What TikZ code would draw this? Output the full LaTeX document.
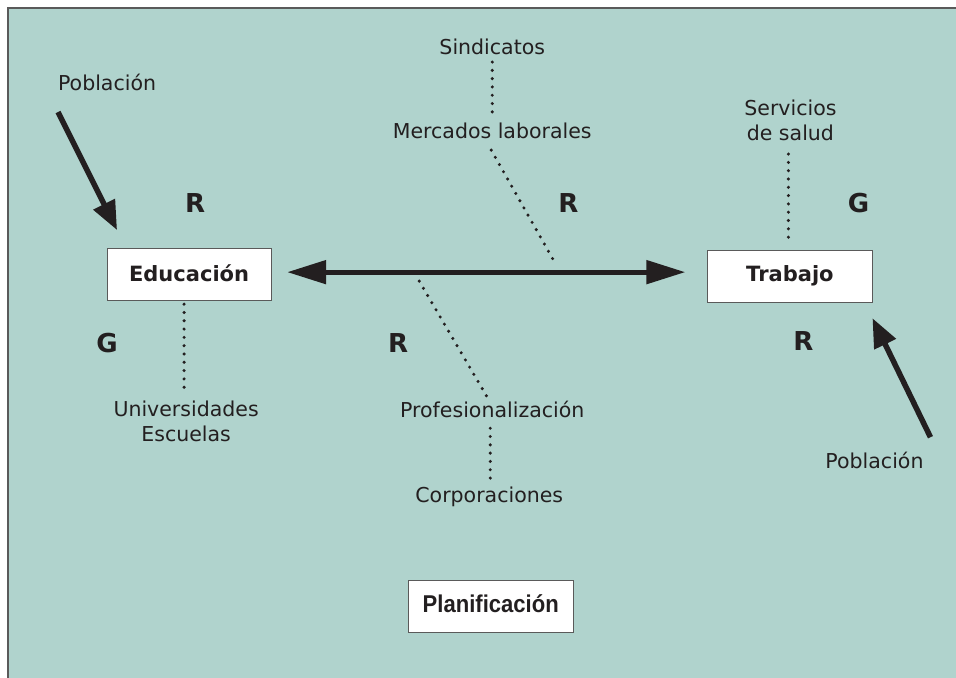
\documentclass[tikz,border=0pt]{standalone}
\usepackage{fontspec}
\setmainfont{DejaVu Sans}
\newfontfamily\planfont{Liberation Sans}
\usetikzlibrary{arrows.meta}
\definecolor{bg}{HTML}{B0D3CD}
\definecolor{ink}{HTML}{231F20}
\definecolor{frame}{HTML}{5A5A5A}
\begin{document}
\begin{tikzpicture}[x=1pt,y=-1pt,
  lbl/.style={font=\fontsize{20.5}{25}\selectfont, text=ink, inner sep=0pt, align=center},
  big/.style={font=\fontsize{26}{28}\selectfont\bfseries, text=ink, inner sep=0pt},
  box/.style={draw=frame, fill=white, line width=0.9pt, minimum width=164pt, minimum height=52pt,
    inner sep=0pt, font=\fontsize{21}{24}\selectfont\bfseries, text=ink},
  dots/.style={ink, line width=3.4pt, line cap=round, dash pattern=on 0pt off 8.3pt},
  fat/.style={ink, line width=5.5pt, -{Triangle[length=29pt,width=23pt]}},
  dbl/.style={ink, line width=5pt, {Triangle[length=39pt,width=23pt]}-{Triangle[length=39pt,width=23pt]}}]
\useasboundingbox (0,0) rectangle (955.5,677.6);
\fill[bg] (0,0) rectangle (970,690);
\fill[white] (-5,-5) rectangle (970,8);
\fill[white] (-5,-5) rectangle (8,690);
\draw[frame, line width=1.2pt] (8,690) -- (8,8) -- (970,8);

% boxes
\node[box] (edu) at (189,274) {\raisebox{3pt}{Educación}};
\node[box] (tra) at (789.5,276) {\raisebox{5pt}{Trabajo}};
\node[box, minimum width=165pt, font=\planfont\fontsize{22.5}{26}\selectfont\bfseries] (plan) at (490.5,606) {\raisebox{5pt}{\scalebox{0.98}[1.08]{Planificación}}};

% main double arrow
\coordinate (aL) at (287,272);
\coordinate (aR) at (685,272);
\draw[dbl] (aL) -- (aR);

% population
\node[lbl] (pop1) at (107,82) {Población};
\node[lbl] (pop2) at (874,460) {Población};
\coordinate (p1s) at (58,112);
\coordinate (p1e) at (117,230);
\coordinate (p2s) at (930,437);
\coordinate (p2e) at (872,318);
\draw[fat] (p1s) -- (p1e);
\draw[fat] (p2s) -- (p2e);

% R / G letters
\node[big] (r1) at (195,203) {R};
\node[big] (r2) at (568,203) {R};
\node[big] (g1) at (858,203) {G};
\node[big] (g2) at (107,343) {G};
\node[big] (r3) at (398,343) {R};
\node[big] (r4) at (803,341) {R};

% labels
\node[lbl] (sind) at (492,47) {Sindicatos};
\node[lbl] (merc) at (492,131) {Mercados laborales};
\node[lbl] (serv) at (790,120) {Servicios\\de salud};
\node[lbl] (univ) at (186,421) {Universidades\\Escuelas};
\node[lbl] (prof) at (492,409) {Profesionalización};
\node[lbl] (corp) at (489,497) {Corporaciones};

% dotted links
\coordinate (d1) at (556,265);
\coordinate (d2) at (419,281);
\draw[dots] (492,62) -- (492,116);
\draw[dots] (491,150) -- (d1);
\draw[dots] (d2) -- (487,397);
\draw[dots] (490,428) -- (490,486);
\draw[dots] (788,154) -- (788,244);
\draw[dots] (184,304) -- (184,395);
\end{tikzpicture}
\end{document}
